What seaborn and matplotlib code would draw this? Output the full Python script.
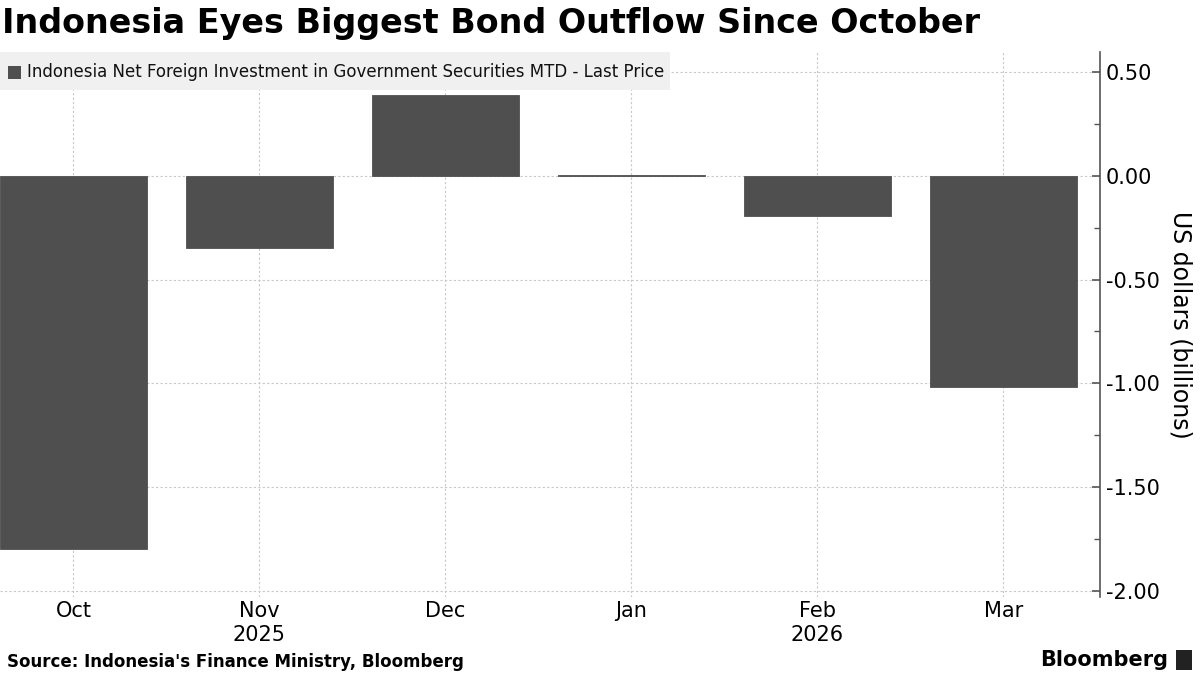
import matplotlib
matplotlib.use("Agg")
import matplotlib.pyplot as plt
import seaborn as sns
import pandas as pd
from matplotlib.ticker import MultipleLocator, FuncFormatter

months = ["Oct", "Nov", "Dec", "Jan", "Feb", "Mar"]
values = [-1.80, -0.35, 0.39, 0.006, -0.195, -1.02]
year_labels = {"Nov": "2025", "Feb": "2026"}
series_name = "Indonesia Net Foreign Investment in Government Securities MTD - Last Price"
title = "Indonesia Eyes Biggest Bond Outflow Since October"
source = "Source: Indonesia's Finance Ministry, Bloomberg"
ylabel = "US dollars (billions)"

sns.set_theme(style="white")
plt.rcParams['font.family'] = ['DejaVu Sans']

df = pd.DataFrame({"month": months, "value": values})

fig = plt.figure(figsize=(12, 6.75), dpi=100)
ax = fig.add_axes([0.0, 1 - 597 / 675, 1100 / 1200, (597 - 52) / 675])

bar_color = "#4f4f4f"
sns.barplot(data=df, x="month", y="value", color=bar_color, width=0.79,
            saturation=1, ax=ax, zorder=3, edgecolor=bar_color, linewidth=0.6)

ax.set_xlim(-0.395, 5.52)
ax.set_ylim(-2.03, 0.597)

# grid
ax.yaxis.set_major_locator(MultipleLocator(0.5))
ax.yaxis.set_minor_locator(MultipleLocator(0.25))
ax.grid(True, which="major", axis="both", color="#c8c8c8", linestyle=(0, (2, 2)), linewidth=0.8, zorder=0)

for s in ["top", "left", "bottom"]:
    ax.spines[s].set_visible(False)
ax.spines["right"].set_color("#555555")
ax.spines["right"].set_linewidth(1.2)

ax.yaxis.tick_right()
ax.yaxis.set_label_position("right")
ax.yaxis.set_major_formatter(FuncFormatter(lambda v, p: f"{v:.2f}"))
ax.tick_params(axis="y", which="major", direction="in", length=6, width=1.2, color="#555555",
               labelsize=15, pad=4, labelcolor="#000000")
ax.tick_params(axis="y", which="minor", direction="in", length=4, width=1, color="#555555")
ax.tick_params(axis="x", length=0, labelsize=15, pad=3, labelcolor="#000000")

xlabels = [m + ("\n" + year_labels[m] if m in year_labels else "") for m in months]
ax.set_xticks(range(len(months)))
ax.set_xticklabels(xlabels, linespacing=1.25)
ax.set_xlabel("")
ax.set_ylabel(ylabel, rotation=270, fontsize=17, labelpad=24, color="#000000")

# legend box
fig.patches.append(plt.Rectangle((0, 1 - 90 / 675), 670 / 1200, 38 / 675, transform=fig.transFigure,
                                 facecolor="#f0f0f0", edgecolor="none", zorder=5))
fig.patches.append(plt.Rectangle((8 / 1200, 1 - 79 / 675), 13 / 1200, 13 / 675, transform=fig.transFigure,
                                 facecolor=bar_color, edgecolor="none", zorder=6))
fig.text(27 / 1200, 1 - 72 / 675, series_name, fontsize=12, va="center", ha="left", color="#111111", zorder=7)

fig.text(0.002, 1 - 24 / 675, title, fontsize=24, fontweight="bold", va="center", ha="left", color="#000000")
fig.text(0.006, 1 - 662 / 675, source, fontsize=12, fontweight="bold", va="center", ha="left", color="#000000")
fig.text(1168 / 1200, 1 - 660 / 675, "Bloomberg", fontsize=15, fontweight="bold", va="center", ha="right", color="#000000")
fig.patches.append(plt.Rectangle((1176 / 1200, 1 - 670 / 675), 16 / 1200, 20 / 675, transform=fig.transFigure,
                                 facecolor="#222222", edgecolor="none"))

fig.savefig("out.png", dpi=100)
